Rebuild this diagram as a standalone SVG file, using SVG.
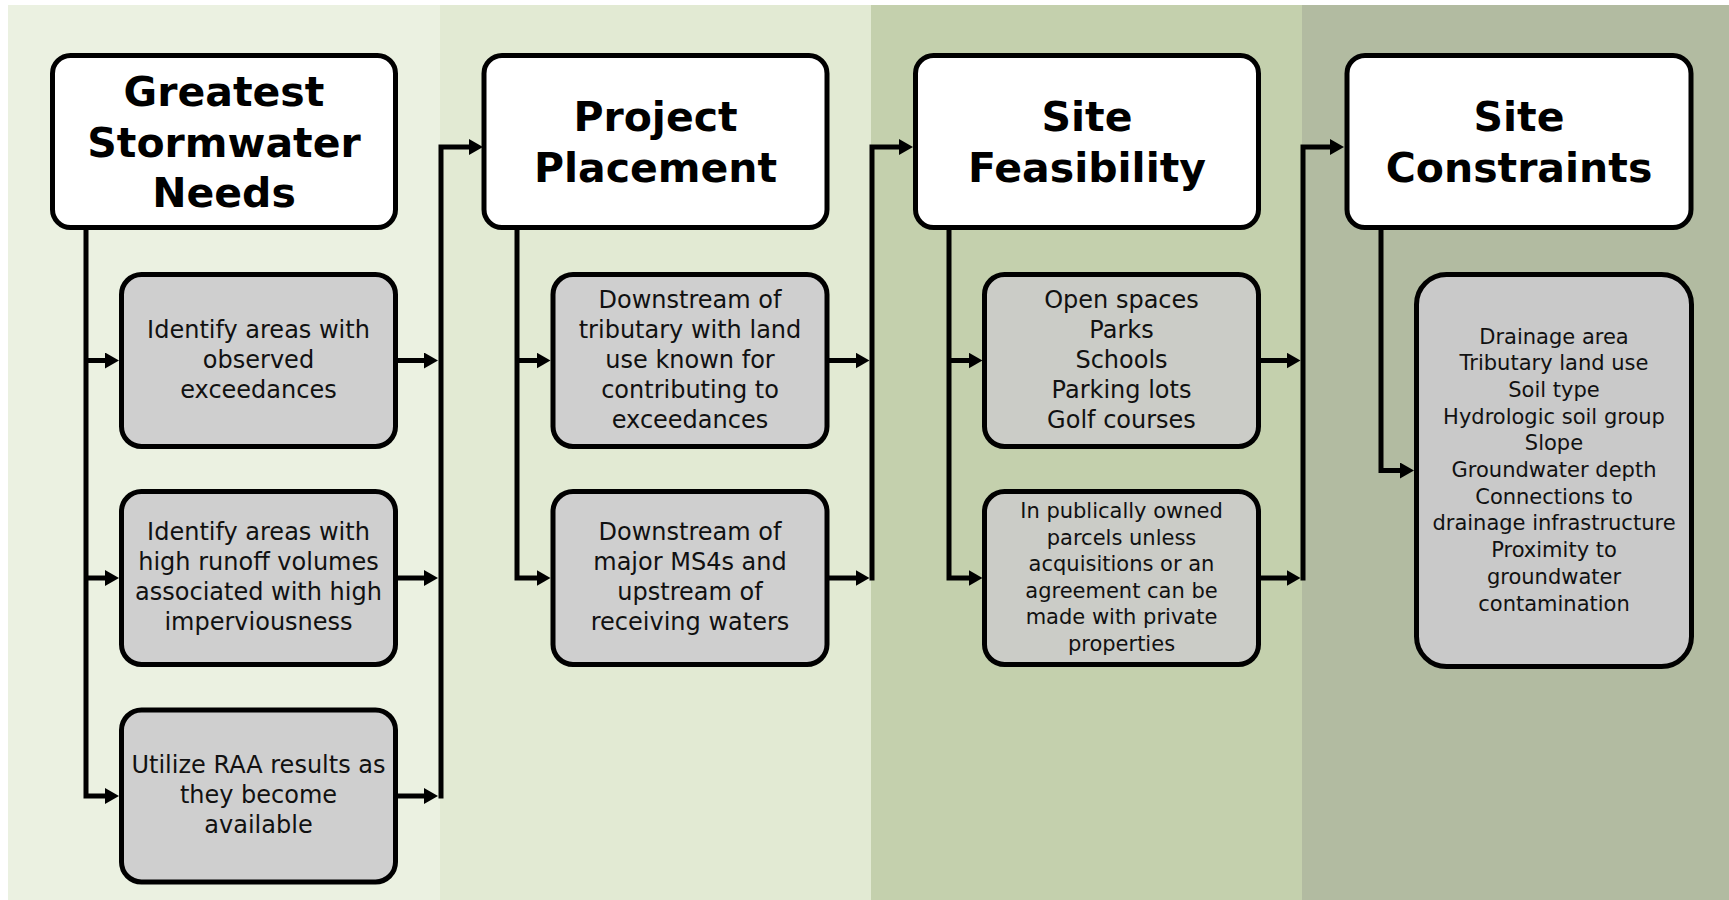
<svg xmlns="http://www.w3.org/2000/svg" width="1729" height="900" viewBox="0 0 1729 900">
  <defs>
    <style>
      .head { fill: #ffffff; stroke: #000000; stroke-width: 5; }
      .step { stroke: #000000; stroke-width: 5; }
      .title { font-family: "DejaVu Sans", "Liberation Sans", sans-serif; font-weight: bold; font-size: 41px; fill: #000000; text-anchor: middle; }
      .body { font-family: "DejaVu Sans", "Liberation Sans", sans-serif; font-size: 24px; fill: #111111; text-anchor: middle; }
      .small { font-size: 21px; }
      .wire { fill: none; stroke: #000000; stroke-width: 5; stroke-linejoin: miter; }
      .arrow { marker-end: url(#tip); }
    </style>
    <marker id="tip" markerUnits="userSpaceOnUse" markerWidth="16" markerHeight="18" refX="2" refY="8" orient="auto">
      <path d="M0,0 L14,8 L0,16 Z" fill="#000000"/>
    </marker>
  </defs>

  <!-- background bands -->
  <rect x="0" y="0" width="1729" height="900" fill="#ffffff"/>
  <rect x="8" y="5" width="432" height="895" fill="#EBF1E1"/>
  <rect x="440" y="5" width="431" height="895" fill="#E2EAD3"/>
  <rect x="871" y="5" width="431" height="895" fill="#C4D0AD"/>
  <rect x="1302" y="5" width="427" height="895" fill="#B2BBA1"/>

  <!-- connectors -->
  <g id="connectors">
    <!-- column 1 -->
    <path class="wire" d="M86 230 V796 H107" marker-end="url(#tip)"/>
    <path class="wire" d="M86 360.5 H107" marker-end="url(#tip)"/>
    <path class="wire" d="M86 578 H107" marker-end="url(#tip)"/>
    <path class="wire" d="M398 360.5 H426" marker-end="url(#tip)"/>
    <path class="wire" d="M398 578 H426" marker-end="url(#tip)"/>
    <path class="wire" d="M398 796 H426" marker-end="url(#tip)"/>
    <path class="wire" d="M441 798.5 V147 H471" marker-end="url(#tip)"/>
    <!-- column 2 -->
    <path class="wire" d="M517 230 V578 H538.5" marker-end="url(#tip)"/>
    <path class="wire" d="M517 360.5 H538.5" marker-end="url(#tip)"/>
    <path class="wire" d="M829 360.5 H857.5" marker-end="url(#tip)"/>
    <path class="wire" d="M829 578 H857.5" marker-end="url(#tip)"/>
    <path class="wire" d="M872 580.5 V147 H901" marker-end="url(#tip)"/>
    <!-- column 3 -->
    <path class="wire" d="M949 230 V578 H970.5" marker-end="url(#tip)"/>
    <path class="wire" d="M949 360.5 H970.5" marker-end="url(#tip)"/>
    <path class="wire" d="M1261 360.5 H1288.5" marker-end="url(#tip)"/>
    <path class="wire" d="M1261 578 H1288.5" marker-end="url(#tip)"/>
    <path class="wire" d="M1303 580.5 V147 H1332" marker-end="url(#tip)"/>
    <!-- column 4 -->
    <path class="wire" d="M1381 230 V470.5 H1402" marker-end="url(#tip)"/>
  </g>

  <!-- column 1 -->
  <g id="greatest-needs">
    <rect class="head" x="52.5" y="55.5" width="343" height="172" rx="18"/>
    <text class="title" x="224" y="106">Greatest</text>
    <text class="title" x="224" y="156.5">Stormwater</text>
    <text class="title" x="224" y="207">Needs</text>
  </g>
  <g id="observed-exceedances">
    <rect class="step" fill="#CFCFCF" x="121.5" y="274.5" width="274" height="172" rx="20"/>
    <text class="body" x="258.5" y="337.5">Identify areas with</text>
    <text class="body" x="258.5" y="367.5">observed</text>
    <text class="body" x="258.5" y="397.5">exceedances</text>
  </g>
  <g id="runoff-volumes">
    <rect class="step" fill="#CFCFCF" x="121.5" y="491.5" width="274" height="173" rx="20"/>
    <text class="body" x="258.5" y="540">Identify areas with</text>
    <text class="body" x="258.5" y="570">high runoff volumes</text>
    <text class="body" x="258.5" y="600">associated with high</text>
    <text class="body" x="258.5" y="630">imperviousness</text>
  </g>
  <g id="raa-results">
    <rect class="step" fill="#CFCFCF" x="121.5" y="710" width="274" height="172" rx="20"/>
    <text class="body" x="258.5" y="773">Utilize RAA results as</text>
    <text class="body" x="258.5" y="803">they become</text>
    <text class="body" x="258.5" y="833">available</text>
  </g>

  <!-- column 2 -->
  <g id="project-placement">
    <rect class="head" x="484" y="55.5" width="343" height="172" rx="18"/>
    <text class="title" x="655.5" y="131">Project</text>
    <text class="title" x="655.5" y="181.5">Placement</text>
  </g>
  <g id="downstream-tributary">
    <rect class="step" fill="#CFCFCF" x="553" y="274.5" width="274" height="172" rx="20"/>
    <text class="body" x="690" y="307.5">Downstream of</text>
    <text class="body" x="690" y="337.5">tributary with land</text>
    <text class="body" x="690" y="367.5">use known for</text>
    <text class="body" x="690" y="397.5">contributing to</text>
    <text class="body" x="690" y="427.5">exceedances</text>
  </g>
  <g id="downstream-ms4s">
    <rect class="step" fill="#CFCFCF" x="553" y="491.5" width="274" height="173" rx="20"/>
    <text class="body" x="690" y="540">Downstream of</text>
    <text class="body" x="690" y="570">major MS4s and</text>
    <text class="body" x="690" y="600">upstream of</text>
    <text class="body" x="690" y="630">receiving waters</text>
  </g>

  <!-- column 3 -->
  <g id="site-feasibility">
    <rect class="head" x="915.5" y="55.5" width="343" height="172" rx="18"/>
    <text class="title" x="1087" y="131">Site</text>
    <text class="title" x="1087" y="181.5">Feasibility</text>
  </g>
  <g id="open-spaces">
    <rect class="step" fill="#CBCCC7" x="984.5" y="274.5" width="274" height="172" rx="20"/>
    <text class="body" x="1121.5" y="307.5">Open spaces</text>
    <text class="body" x="1121.5" y="337.5">Parks</text>
    <text class="body" x="1121.5" y="367.5">Schools</text>
    <text class="body" x="1121.5" y="397.5">Parking lots</text>
    <text class="body" x="1121.5" y="427.5">Golf courses</text>
  </g>
  <g id="public-parcels">
    <rect class="step" fill="#CBCCC7" x="984.5" y="491.5" width="274" height="173" rx="20"/>
    <text class="body small" x="1121.5" y="518.3">In publically owned</text>
    <text class="body small" x="1121.5" y="544.8">parcels unless</text>
    <text class="body small" x="1121.5" y="571.3">acquisitions or an</text>
    <text class="body small" x="1121.5" y="597.8">agreement can be</text>
    <text class="body small" x="1121.5" y="624.3">made with private</text>
    <text class="body small" x="1121.5" y="650.8">properties</text>
  </g>

  <!-- column 4 -->
  <g id="site-constraints">
    <rect class="head" x="1347" y="55.5" width="344" height="172" rx="18"/>
    <text class="title" x="1519" y="131">Site</text>
    <text class="title" x="1519" y="181.5">Constraints</text>
  </g>
  <g id="constraint-list">
    <rect class="step" fill="#C9C9C9" x="1416.5" y="274.5" width="275" height="392" rx="30"/>
    <text class="body small" x="1554" y="343.5">Drainage area</text>
    <text class="body small" x="1554" y="370.2">Tributary land use</text>
    <text class="body small" x="1554" y="396.9">Soil type</text>
    <text class="body small" x="1554" y="423.6">Hydrologic soil group</text>
    <text class="body small" x="1554" y="450.3">Slope</text>
    <text class="body small" x="1554" y="477">Groundwater depth</text>
    <text class="body small" x="1554" y="503.7">Connections to</text>
    <text class="body small" x="1554" y="530.4">drainage infrastructure</text>
    <text class="body small" x="1554" y="557.1">Proximity to</text>
    <text class="body small" x="1554" y="583.8">groundwater</text>
    <text class="body small" x="1554" y="610.5">contamination</text>
  </g>
</svg>
